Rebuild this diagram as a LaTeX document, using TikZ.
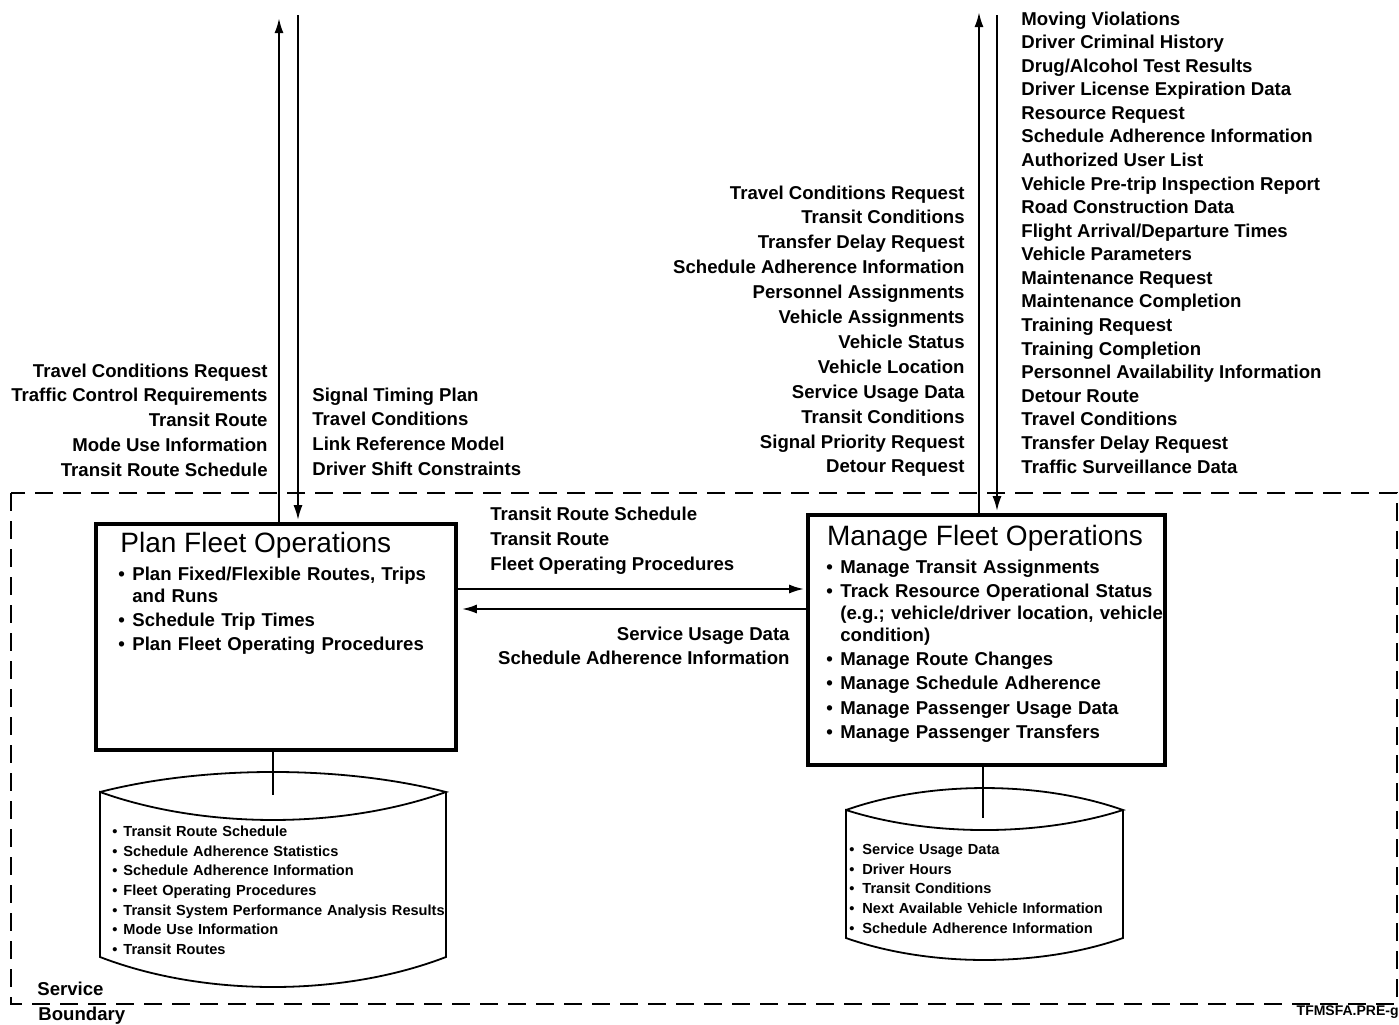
\documentclass[tikz,border=0pt]{standalone}
\usepackage{fontspec}
\setmainfont{Liberation Sans}
\usetikzlibrary{arrows.meta, positioning, calc}

\newcommand{\bitem}[2][7pt]{\par\hangindent=#1\hangafter=1\noindent\makebox[#1][l]{\textbullet}#2}

\begin{document}
\begin{tikzpicture}[
    x=0.5pt, y=-0.5pt,
    lbl/.style={font=\bfseries\fontsize{9.3}{11}\selectfont, inner sep=0pt},
    procbox/.style={rectangle, draw, line width=1.8pt, inner sep=0pt},
    proctitle/.style={font=\fontsize{14}{16}\selectfont, inner sep=0pt},
    proclist/.style={font=\bfseries\fontsize{9.3}{11}\selectfont, inner sep=0pt, text width=#1, align=left, execute at begin node={\setlength{\parskip}{1.1pt}}},
    storelist/.style={font=\bfseries\fontsize{7.3}{9.8}\selectfont, inner sep=0pt, text width=#1, align=left},
    store/.style={draw, line width=0.9pt},
    flow/.style={-{Latex[length=7.5pt,width=4.5pt]}, line width=1.1pt},
    link/.style={line width=1pt},
    boundary/.style={line width=1.1pt, dash pattern=on 9pt off 5pt}
]
\useasboundingbox (0,0) rectangle (1399,1024);

% Process boxes
\node[procbox, minimum width=180pt, minimum height=113pt] (plan) at (276,637) {};
\node[procbox, minimum width=178.5pt, minimum height=125pt] (manage) at (986.5,640) {};

\node[proctitle, anchor=base west] (plantitle) at (120,552) {Plan Fleet Operations};
\node[proctitle, anchor=base] (managetitle) at (985,545) {Manage Fleet Operations};

\node[proclist=168pt, anchor=base west] (planlist) at (118,556) {%
    \bitem{Plan Fixed/Flexible Routes, Trips\newline and Runs}%
    \bitem{Schedule Trip Times}%
    \bitem{Plan Fleet Operating Procedures}};
\node[proclist=172pt, anchor=base west] (managelist) at (826,549) {%
    \bitem{Manage Transit Assignments}%
    \bitem{Track Resource Operational Status\newline (e.g.; vehicle/driver location, vehicle\newline condition)}%
    \bitem{Manage Route Changes}%
    \bitem{Manage Schedule Adherence}%
    \bitem{Manage Passenger Usage Data}%
    \bitem{Manage Passenger Transfers}};

% Data stores
\draw[store] (100,792) .. controls (204,765.3) and (342,765.3) .. (446,792)
    .. controls (342,829.3) and (204,829.3) .. (100,792) -- (100,957)
    .. controls (204,997) and (342,997) .. (446,957) -- (446,792);
\coordinate (s1) at (273,795);
\draw[link] (plan.south -| s1) -- (s1);
\node[storelist=172pt, anchor=base west] (s1list) at (112,817) {%
    \bitem[5.5pt]{Transit Route Schedule}%
    \bitem[5.5pt]{Schedule Adherence Statistics}%
    \bitem[5.5pt]{Schedule Adherence Information}%
    \bitem[5.5pt]{Fleet Operating Procedures}%
    \bitem[5.5pt]{Transit System Performance Analysis Results}%
    \bitem[5.5pt]{Mode Use Information}%
    \bitem[5.5pt]{Transit Routes}};

\draw[store] (846,810) .. controls (929,780.7) and (1040,780.7) .. (1123,810)
    .. controls (1040,836.7) and (929,836.7) .. (846,810) -- (846,938)
    .. controls (929,967.3) and (1040,967.3) .. (1123,938) -- (1123,810);
\coordinate (s2) at (983,818);
\draw[link] (manage.south -| s2) -- (s2);
\node[storelist=135pt, anchor=base west] (s2list) at (849,835) {%
    \bitem[6.5pt]{Service Usage Data}%
    \bitem[6.5pt]{Driver Hours}%
    \bitem[6.5pt]{Transit Conditions}%
    \bitem[6.5pt]{Next Available Vehicle Information}%
    \bitem[6.5pt]{Schedule Adherence Information}};

% Flows out of the boundary
\coordinate (pu) at (279,18);
\coordinate (pd) at (298,15);
\coordinate (mu) at (979,12);
\coordinate (md) at (997,15);
\draw[flow] (plan.north -| pu) -- (pu);
\draw[flow, shorten >=1pt] (pd) -- (plan.north -| pd);
\draw[flow] (manage.north -| mu) -- (mu);
\draw[flow, shorten >=1pt] (md) -- (manage.north -| md);

% Flows between the processes
\coordinate (hu) at (0,589);
\coordinate (hl) at (0,609);
\draw[flow, shorten >=1pt] (plan.east |- hu) -- (manage.west |- hu);
\draw[flow, shorten >=2pt] (manage.west |- hl) -- (plan.east |- hl);

% Flow labels
\foreach \t [count=\i from 0] in {Travel Conditions Request, Traffic Control Requirements, Transit Route, Mode Use Information, Transit Route Schedule}
    \node[lbl, anchor=base east] (pl\i) at (268,{377+24.75*\i}) {\t};
\foreach \t [count=\i from 0] in {Signal Timing Plan, Travel Conditions, Link Reference Model, Driver Shift Constraints}
    \node[lbl, anchor=base west] (pr\i) at (312,{401+24.7*\i}) {\t};
\foreach \t [count=\i from 0] in {Travel Conditions Request, Transit Conditions, Transfer Delay Request, Schedule Adherence Information, Personnel Assignments, Vehicle Assignments, Vehicle Status, Vehicle Location, Service Usage Data, Transit Conditions, Signal Priority Request, Detour Request}
    \node[lbl, anchor=base east] (ml\i) at (965,{199+24.9*\i}) {\t};
\foreach \t [count=\i from 0] in {Moving Violations, Driver Criminal History, Drug/Alcohol Test Results, Driver License Expiration Data, Resource Request, Schedule Adherence Information, Authorized User List, Vehicle Pre-trip Inspection Report, Road Construction Data, Flight Arrival/Departure Times, Vehicle Parameters, Maintenance Request, Maintenance Completion, Training Request, Training Completion, Personnel Availability Information, Detour Route, Travel Conditions, Transfer Delay Request, Traffic Surveillance Data}
    \node[lbl, anchor=base west] (mr\i) at (1021,{25+23.58*\i}) {\t};
\foreach \t [count=\i from 0] in {Transit Route Schedule, Transit Route, Fleet Operating Procedures}
    \node[lbl, anchor=base west] (hu\i) at (490,{520+25*\i}) {\t};
\foreach \t [count=\i from 0] in {Service Usage Data, Schedule Adherence Information}
    \node[lbl, anchor=base east] (hl\i) at (790,{640+24*\i}) {\t};

% Service boundary
\draw[boundary] (11,493) rectangle (1397,1004);
\node[lbl, anchor=base west] (svc) at (37,995) {Service};
\node[lbl, anchor=base west] (bdy) at (38,1020) {Boundary};
\node[font=\bfseries\fontsize{7}{8}\selectfont, inner sep=0pt, anchor=base east] (tag) at (1399,1015) {TFMSFA.PRE-g};

\end{tikzpicture}
\end{document}
